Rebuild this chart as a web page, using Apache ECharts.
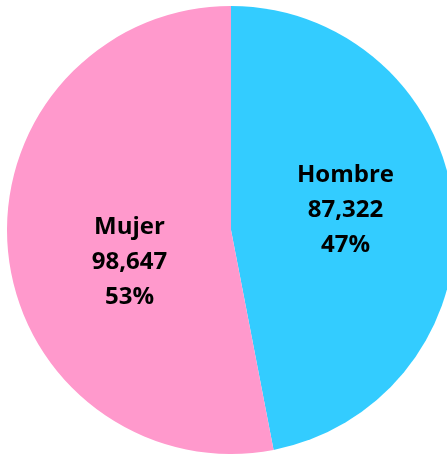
<!DOCTYPE html>
<html><head><meta charset="utf-8">
<script src="https://cdn.jsdelivr.net/npm/echarts@6/dist/echarts.min.js"></script>
<style>html,body{margin:0;padding:0;background:#fff}#c{width:447px;height:454px}</style>
</head><body><div id="c"></div>
<script>
const categories = ["Hombre", "Mujer"];
const values = [87322, 98647];
const percents = ["47%", "53%"];
const colors = ["#33CCFF", "#FF99CC"];
const labelOffsets = [[0, -9], [13, 21]];

const chart = echarts.init(document.getElementById('c'), null, {renderer: 'canvas'});
const data = categories.map((c, i) => ({
  name: c,
  value: values[i],
  itemStyle: {color: colors[i]},
  label: {offset: labelOffsets[i]}
}));
chart.setOption({
  animation: false,
  series: [{
    type: 'pie',
    center: [231, 230],
    radius: [0, 224],
    startAngle: 90,
    clockwise: true,
    data: data,
    itemStyle: {borderWidth: 0},
    emphasis: {disabled: true},
    label: {
      show: true,
      position: 'inside',
      formatter: p => p.name + '\n' + p.value.toLocaleString('en-US') + '\n' + percents[p.dataIndex],
      fontFamily: 'Open Sans',
      fontWeight: 'bold',
      fontSize: 24,
      lineHeight: 35,
      color: '#000',
      align: 'center'
    },
    labelLine: {show: false}
  }]
});
</script></body></html>
